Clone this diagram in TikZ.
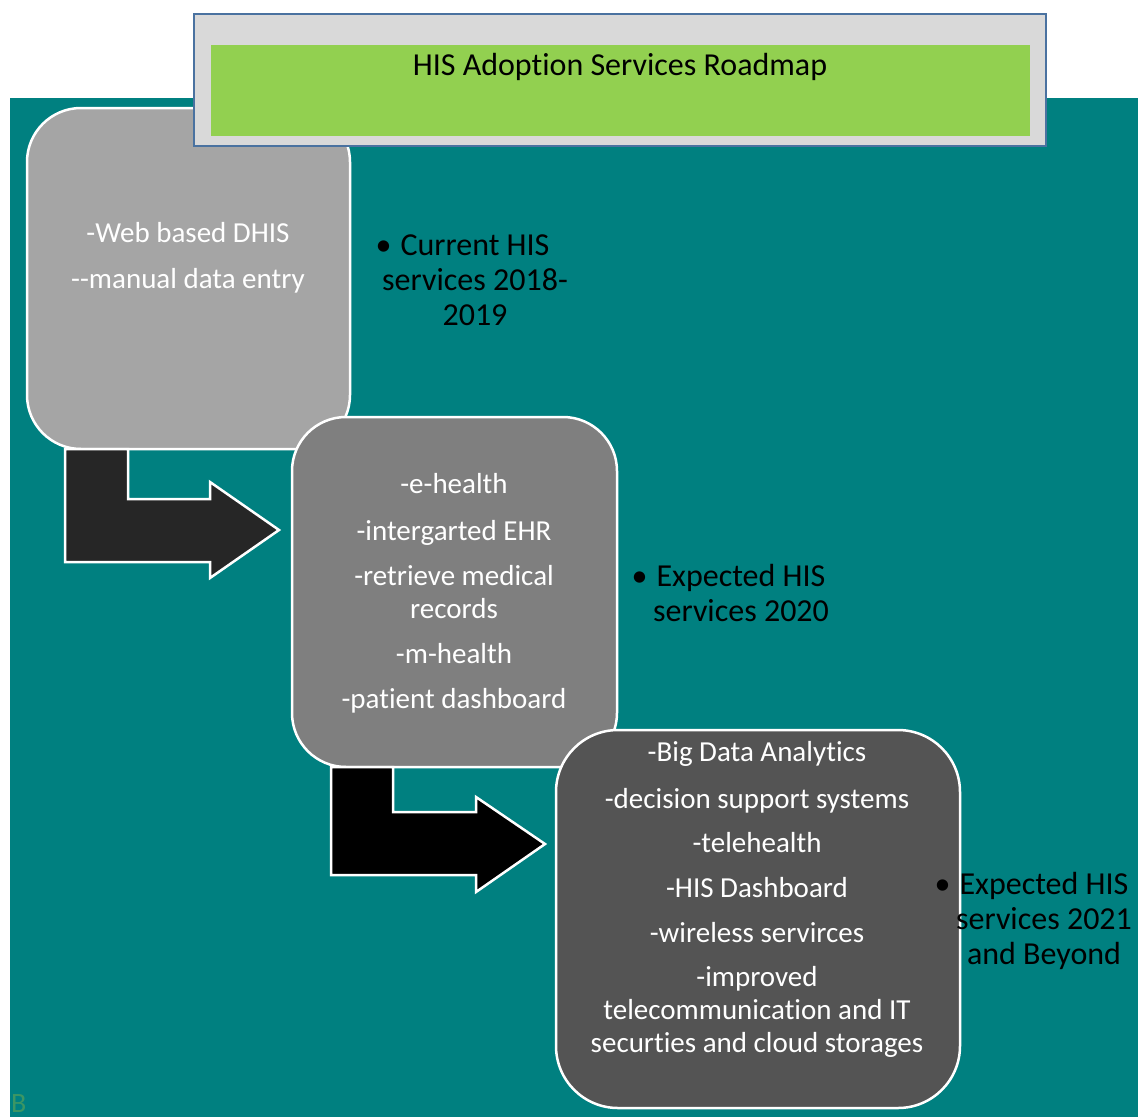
\documentclass[tikz,border=0pt]{standalone}
\usepackage{fontspec}
\setmainfont{Carlito}[Ligatures={TeXOff,CommonOff}]
\definecolor{teal0}{HTML}{008080}
\definecolor{boxA}{HTML}{A5A5A5}
\definecolor{boxB}{HTML}{7F7F7F}
\definecolor{boxC}{HTML}{545454}
\definecolor{arrA}{HTML}{262626}
\definecolor{arrB}{HTML}{000000}
\definecolor{titlegray}{HTML}{D9D9D9}
\definecolor{titleedge}{HTML}{4A72A0}
\definecolor{titlegreen}{HTML}{92D050}
\definecolor{bcol}{RGB}{60,150,100}
\newcommand{\hangbullet}{\llap{\textbullet\hspace{9pt}}}
\tikzset{
  stagebox/.style={draw=white, line width=2.5pt, rounded corners=#1, inner sep=0pt},
  bentarrow/.style={draw=white, line width=2.5pt, line join=miter},
  boxtext/.style={text=white, align=center, inner sep=0pt, font=\fontsize{29}{33}\selectfont},
  sidelabel/.style={text=black, align=center, inner sep=0pt, font=\fontsize{32}{35}\selectfont},
}
\begin{document}
\begin{tikzpicture}[x=1pt,y=-1pt]
\useasboundingbox (0,0) rectangle (1138,1117);
% background
\fill[teal0] (10,98) rectangle (1138,1117);
% stage 1
\node[stagebox=54pt, fill=boxA, minimum width=323pt, minimum height=341pt] (b1) at (188.5,278.5) {};
\node[boxtext] (t1) at (188,257.5) {-Web based DHIS\\[13pt]--manual data entry};
% arrow 1
\draw[bentarrow, fill=arrA] (65,449) -- (128,449) -- (128,499) -- (210,499) -- (210,482) -- (279,530) -- (210,578) -- (210,562) -- (65,562) -- cycle;
% stage 2
\node[stagebox=54pt, fill=boxB, minimum width=325pt, minimum height=350pt] (b2) at (454.5,592) {};
\node[boxtext] (t2) at (454,593.5) {-e-health\\[14pt]-intergarted EHR\\[12pt]-retrieve medical\\records\\[12pt]-m-health\\[12pt]-patient dashboard};
% arrow 2
\draw[bentarrow, fill=arrB] (331,767) -- (393,767) -- (393,812) -- (476,812) -- (476,797) -- (545,844) -- (476,892) -- (476,875) -- (331,875) -- cycle;
% stage 3
\node[stagebox=62pt, fill=boxC, minimum width=404pt, minimum height=378pt] (b3) at (758,919) {};
\node[boxtext] (t3) at (757,899) {-Big Data Analytics\\[14pt]-decision support systems\\[11pt]-telehealth\\[12pt]-HIS Dashboard\\[12pt]-wireless servirces\\[11pt]-improved\\telecommunication and IT\\securties and cloud storages};
% side labels
\node[sidelabel] (l1) at (475,280.5) {\hangbullet Current HIS\\services 2018-\\2019};
\node[sidelabel] (l2) at (741,593) {\hangbullet Expected HIS\\services 2020};
\node[sidelabel] (l3) at (1044,920.5) {\hangbullet Expected HIS\\services 2021\\and Beyond};
% title
\node[draw=titleedge, line width=2pt, fill=titlegray, minimum width=852pt, minimum height=132pt, inner sep=0pt] (tb) at (620,80) {};
\node[fill=titlegreen, minimum width=819pt, minimum height=91pt, inner sep=0pt] (tg) at (620.5,90.5) {};
\node[text=black, inner sep=0pt, font=\fontsize{32}{35}\selectfont] (tt) at (620,67) {HIS Adoption Services Roadmap};
% stray letter
\node[text=bcol, anchor=base west, inner sep=0pt, font=\fontsize{28}{28}\selectfont] (bl) at (11,1112) {B};
\end{tikzpicture}
\end{document}
